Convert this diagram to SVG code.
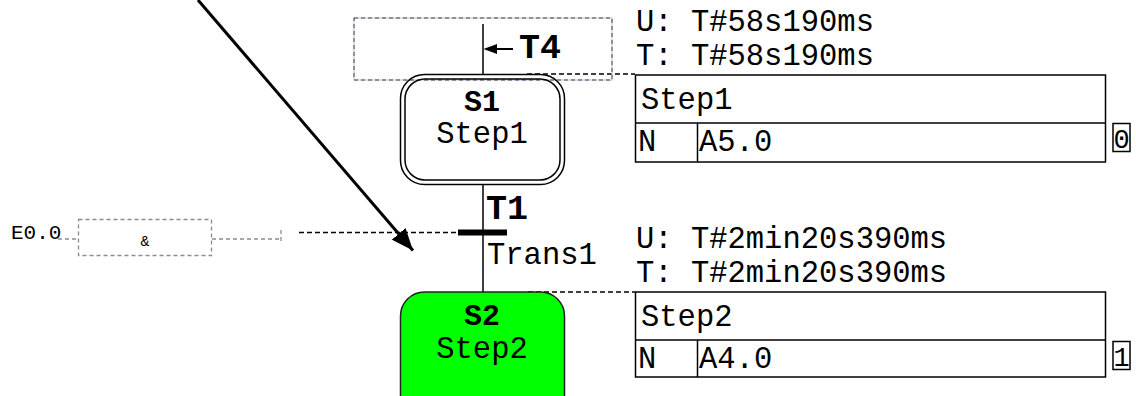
<svg xmlns="http://www.w3.org/2000/svg" width="1136" height="396" viewBox="0 0 1136 396">
<defs>
<style>
.mono{font-family:"Liberation Mono","Courier New",monospace;fill:#000}
.txt{font-size:30.5px}
.big{font-size:35px;font-weight:bold}
.sn{font-size:30px;font-weight:bold}
.ln{stroke:#000;stroke-width:1.5;fill:none}
.tbl{stroke:#000;stroke-width:1.5;fill:#fff}
.dash{stroke:#000;stroke-width:1.5;stroke-dasharray:5 3;fill:none}
.gdash{stroke:#8c8c8c;stroke-width:1.3;stroke-dasharray:4 3;fill:none}
</style>
<marker id="ah" markerWidth="24" markerHeight="18" refX="22" refY="9" orient="auto" markerUnits="userSpaceOnUse">
<path d="M0,0 L22,9 L0,18 z" fill="#000"/>
</marker>
</defs>
<rect width="1136" height="396" fill="#fff"/>

<g id="connectors">
<line class="ln" x1="483" y1="24" x2="483" y2="75"/>
<line class="ln" x1="483" y1="184" x2="483" y2="292"/>
<line class="dash" x1="527" y1="74" x2="635" y2="74"/>
<line class="dash" x1="528" y1="292" x2="635" y2="292"/>
<line class="dash" x1="299" y1="232.5" x2="458" y2="232.5"/>
<line x1="198" y1="0" x2="413" y2="250.5" stroke="#000" stroke-width="3" marker-end="url(#ah)"/>
</g>

<g id="t4">
<rect x="354" y="18" width="258" height="62" fill="none" stroke="#b8b8ff" stroke-width="1"/>
<rect x="354" y="18" width="258" height="62" fill="none" stroke="#4a4a1a" stroke-width="1" stroke-dasharray="4 3"/>
<line x1="496" y1="49" x2="513" y2="49" stroke="#000" stroke-width="2"/>
<path d="M483.5,49 L497,44 L497,54 z" fill="#000"/>
<text class="mono big" x="519" y="58">T4</text>
</g>

<g id="s1">
<rect x="400.5" y="74.5" width="164" height="110" rx="24" class="ln" fill="#fff"/>
<rect x="405" y="79" width="155" height="101" rx="20" class="ln"/>
<text class="mono sn" x="482" y="111" text-anchor="middle">S1</text>
<text class="mono txt" x="482" y="143" text-anchor="middle">Step1</text>
</g>

<g id="t1">
<rect x="458" y="229.5" width="49" height="6" fill="#000"/>
<text class="mono big" x="486" y="219">T1</text>
<text class="mono txt" x="487" y="264">Trans1</text>
</g>

<g id="s2">
<rect x="400.5" y="292" width="164" height="140" rx="24" fill="#00ff00" stroke="#222" stroke-width="1.5"/>
<text class="mono sn" x="482" y="325" text-anchor="middle">S2</text>
<text class="mono txt" x="482" y="358" text-anchor="middle">Step2</text>
</g>

<g id="cond">
<text class="mono" x="11" y="239" font-size="21" fill="#222">E0.0</text>
<line class="gdash" x1="58" y1="239" x2="78" y2="239"/>
<rect class="gdash" x="78.5" y="219.5" width="133" height="36"/>
<text class="mono" x="145" y="246" font-size="15" text-anchor="middle">&amp;</text>
<line class="gdash" x1="212" y1="239" x2="281" y2="239"/>
<line class="gdash" x1="281" y1="230" x2="281" y2="242"/>
</g>

<g id="act1">
<text class="mono txt" x="636" y="31">U: T#58s190ms</text>
<text class="mono txt" x="636" y="65">T: T#58s190ms</text>
<rect class="tbl" x="635.5" y="75" width="470" height="87"/>
<line class="ln" x1="635.5" y1="123" x2="1105.5" y2="123"/>
<line class="ln" x1="697.5" y1="123" x2="697.5" y2="162"/>
<text class="mono txt" x="641" y="109">Step1</text>
<text class="mono txt" x="638" y="151">N</text>
<text class="mono txt" x="699" y="151">A5.0</text>
<rect class="tbl" x="1113" y="123.5" width="17" height="28"/>
<text class="mono" x="1121.5" y="148" text-anchor="middle" font-size="27">0</text>
</g>

<g id="act2">
<text class="mono txt" x="636" y="248">U: T#2min20s390ms</text>
<text class="mono txt" x="636" y="282">T: T#2min20s390ms</text>
<rect class="tbl" x="635.5" y="292" width="470" height="85"/>
<line class="ln" x1="635.5" y1="340" x2="1105.5" y2="340"/>
<line class="ln" x1="697.5" y1="340" x2="697.5" y2="377"/>
<text class="mono txt" x="641" y="326">Step2</text>
<text class="mono txt" x="638" y="368">N</text>
<text class="mono txt" x="699" y="368">A4.0</text>
<rect class="tbl" x="1113" y="341.5" width="17" height="28"/>
<text class="mono" x="1121.5" y="366" text-anchor="middle" font-size="27">1</text>
</g>
</svg>
